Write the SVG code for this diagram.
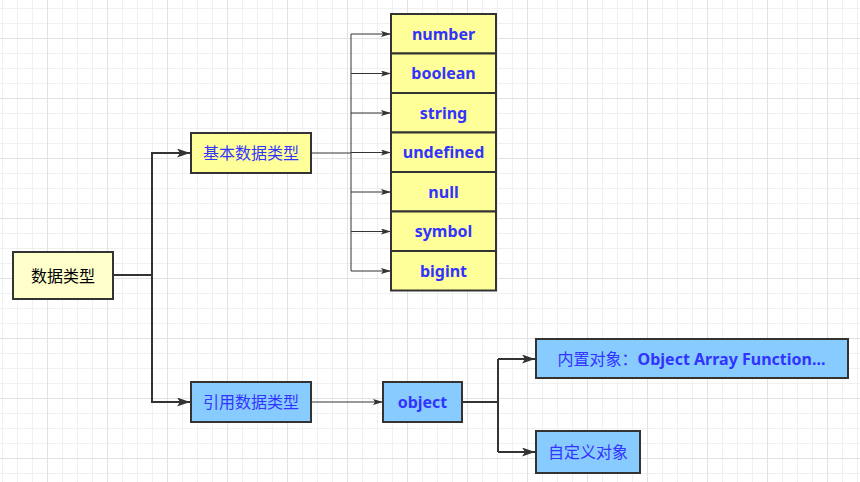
<svg xmlns="http://www.w3.org/2000/svg" width="860" height="482" viewBox="0 0 860 482">
  <defs>
    <pattern id="grid" x="47" y="38" width="60" height="60" patternUnits="userSpaceOnUse">
      <rect x="15" y="0" width="1" height="60" fill="#f0f0f0"/>
      <rect x="30" y="0" width="1" height="60" fill="#f0f0f0"/>
      <rect x="45" y="0" width="1" height="60" fill="#f0f0f0"/>
      <rect x="0" y="15" width="60" height="1" fill="#f0f0f0"/>
      <rect x="0" y="30" width="60" height="1" fill="#f0f0f0"/>
      <rect x="0" y="45" width="60" height="1" fill="#f0f0f0"/>
      <rect x="0" y="0" width="1" height="60" fill="#e2e2e2"/>
      <rect x="0" y="0" width="60" height="1" fill="#e2e2e2"/>
    </pattern>
    <marker id="arrowBig" markerUnits="userSpaceOnUse" markerWidth="14" markerHeight="10" refX="13" refY="4.5" orient="auto">
      <path d="M0,0 L13,4.5 L0,9 L3,4.5 z" fill="#333333"/>
    </marker>
    <marker id="arrowSmall" markerUnits="userSpaceOnUse" markerWidth="11" markerHeight="7" refX="10" refY="3" orient="auto">
      <path d="M0,0 L10,3 L0,6 L2,3 z" fill="#333333"/>
    </marker>
  </defs>
  <style>
    .box { stroke: #333333; stroke-width: 2; }
    .y1 { fill: #ffffcc; }
    .y2 { fill: #ffff99; }
    .b { fill: #88ccff; }
    .t { font-family: "Noto Sans", "Noto Sans CJK SC", sans-serif; font-size: 16px; text-anchor: middle; dominant-baseline: central; fill: #3333ff; }
    .bold { font-weight: bold; }
    .black { fill: #000000; }
    .thick { fill: none; stroke: #333333; stroke-width: 2; }
    .thin { fill: none; stroke: #333333; stroke-width: 1; }
  </style>
  <rect x="0" y="0" width="860" height="482" fill="#ffffff"/>
  <rect x="0" y="0" width="860" height="482" fill="url(#grid)"/>

  <g id="connectors">
    <path class="thick" d="M113,275 H152 V153 H190" marker-end="url(#arrowBig)"/>
    <path class="thick" d="M152,275 V402 H190" marker-end="url(#arrowBig)"/>
    <path class="thin" d="M311,153 H351" stroke-width="1.5"/>
    <path class="thin" d="M351,34 V271"/>
    <path class="thin" d="M351,34 H391" marker-end="url(#arrowSmall)"/>
    <path class="thin" d="M351,73.5 H391" marker-end="url(#arrowSmall)"/>
    <path class="thin" d="M351,113 H391" marker-end="url(#arrowSmall)"/>
    <path class="thin" d="M351,152.5 H391" marker-end="url(#arrowSmall)"/>
    <path class="thin" d="M351,192 H391" marker-end="url(#arrowSmall)"/>
    <path class="thin" d="M351,231.5 H391" marker-end="url(#arrowSmall)"/>
    <path class="thin" d="M351,271 H391" marker-end="url(#arrowSmall)"/>
    <path class="thin" d="M311,402 H383" marker-end="url(#arrowSmall)"/>
    <path class="thick" d="M462,402 H498"/>
    <path class="thick" d="M498,359 V452"/>
    <path class="thick" d="M498,359 H535" marker-end="url(#arrowBig)"/>
    <path class="thick" d="M498,452 H535" marker-end="url(#arrowBig)"/>
  </g>

  <g id="node-datatype">
    <rect class="box y1" x="13" y="252" width="100" height="47"/>
    <text class="t black" x="63" y="275.5">数据类型</text>
  </g>
  <g id="node-primitive">
    <rect class="box y2" x="191" y="133" width="120" height="40"/>
    <text class="t" x="251" y="153">基本数据类型</text>
  </g>
  <g id="node-number">
    <rect class="box y2" x="391" y="14" width="105" height="39.5"/>
    <text class="t bold" x="443.5" y="33.75">number</text>
  </g>
  <g id="node-boolean">
    <rect class="box y2" x="391" y="53.5" width="105" height="39.5"/>
    <text class="t bold" x="443.5" y="73.25">boolean</text>
  </g>
  <g id="node-string">
    <rect class="box y2" x="391" y="93" width="105" height="39.5"/>
    <text class="t bold" x="443.5" y="112.75">string</text>
  </g>
  <g id="node-undefined">
    <rect class="box y2" x="391" y="132.5" width="105" height="39.5"/>
    <text class="t bold" x="443.5" y="152.25">undefined</text>
  </g>
  <g id="node-null">
    <rect class="box y2" x="391" y="172" width="105" height="39.5"/>
    <text class="t bold" x="443.5" y="191.75">null</text>
  </g>
  <g id="node-symbol">
    <rect class="box y2" x="391" y="211.5" width="105" height="39.5"/>
    <text class="t bold" x="443.5" y="231.25">symbol</text>
  </g>
  <g id="node-bigint">
    <rect class="box y2" x="391" y="251" width="105" height="39.5"/>
    <text class="t bold" x="443.5" y="270.75">bigint</text>
  </g>
  <g id="node-reference">
    <rect class="box b" x="191" y="382" width="120" height="40"/>
    <text class="t" x="251" y="402">引用数据类型</text>
  </g>
  <g id="node-object">
    <rect class="box b" x="383" y="382" width="79" height="40"/>
    <text class="t bold" x="422.5" y="402">object</text>
  </g>
  <g id="node-builtin">
    <rect class="box b" x="536" y="339" width="312" height="39"/>
    <text class="t" x="691.5" y="358.5">内置对象：<tspan class="bold">Object Array Function...</tspan></text>
  </g>
  <g id="node-custom">
    <rect class="box b" x="536" y="431" width="104" height="42"/>
    <text class="t" x="588" y="452">自定义对象</text>
  </g>
</svg>
